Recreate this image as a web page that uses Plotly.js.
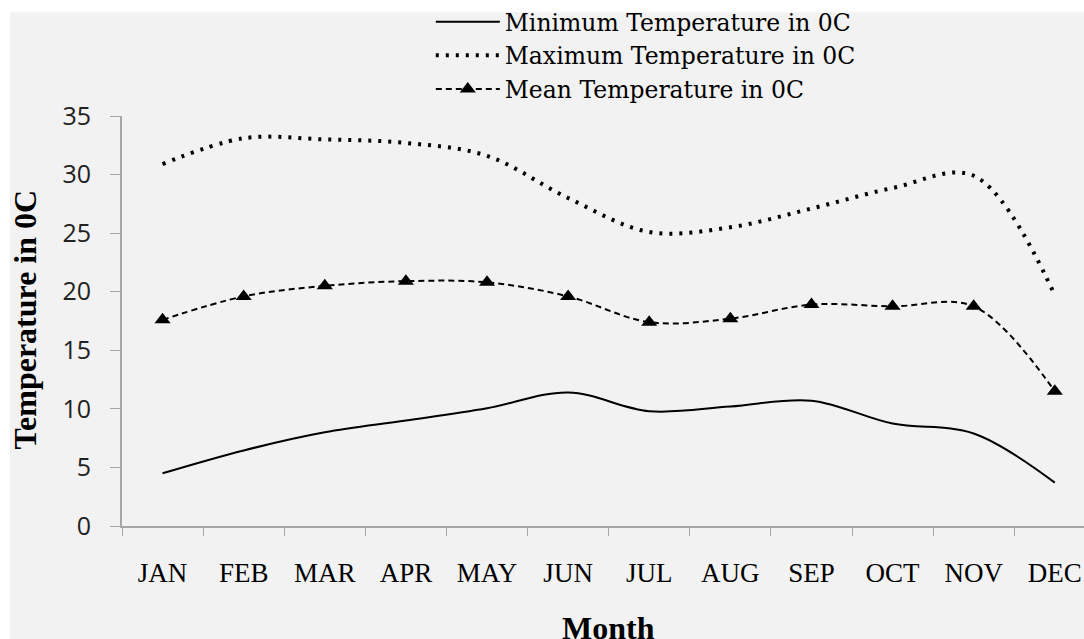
<!DOCTYPE html>
<html>
<head>
<meta charset="utf-8">
<script src="https://cdn.plot.ly/plotly-3.0.1.min.js"></script>
<style>html,body{margin:0;padding:0;background:#fff;}#chart{width:1084px;height:639px;}</style>
</head>
<body>
<div id="chart"></div>
<script>
const months = ["JAN","FEB","MAR","APR","MAY","JUN","JUL","AUG","SEP","OCT","NOV","DEC"];
const minTemp = [4.5, 6.45, 8.0, 9.0, 10.05, 11.4, 9.8, 10.2, 10.7, 8.75, 7.9, 3.7];
const maxTemp = [30.9, 33.1, 33.0, 32.7, 31.6, 28.0, 25.1, 25.5, 27.1, 28.85, 29.9, 19.7];
const meanTemp = [17.6, 19.6, 20.5, 20.9, 20.8, 19.6, 17.4, 17.7, 18.9, 18.75, 18.75, 11.5];
const seriesNames = ["Minimum Temperature in 0C","Maximum Temperature in 0C","Mean Temperature in 0C"];

const serif = "Liberation Serif, Times New Roman, serif";
const legendSerif = "DejaVu Serif, Liberation Serif, serif";
const sans = "Open Sans, Lato, sans-serif";

const traces = [
  {x: months, y: minTemp, name: seriesNames[0], type: "scatter", mode: "lines",
   line: {color: "#000", width: 2, shape: "spline", smoothing: 1}},
  {x: months, y: maxTemp, name: seriesNames[1], type: "scatter", mode: "lines",
   line: {color: "#000", width: 4, dash: "3px,7px", shape: "spline", smoothing: 1}},
  {x: months, y: meanTemp, name: seriesNames[2], type: "scatter", mode: "lines+markers",
   line: {color: "#000", width: 2, dash: "6px,4px", shape: "spline", smoothing: 1},
   marker: {symbol: "triangle-up", size: 14, color: "#000"}}
];

const layout = {
  width: 1084, height: 639,
  margin: {l: 122, r: 0, t: 116, b: 113},
  paper_bgcolor: "#ffffff",
  plot_bgcolor: "rgba(0,0,0,0)",
  showlegend: true,
  legend: {x: 0.321, xanchor: "left", y: 1, yref: "container", yanchor: "top",
           bgcolor: "rgba(0,0,0,0)", font: {family: legendSerif, size: 23.5, color: "#000"},
           tracegroupgap: 0, itemwidth: 64, borderwidth: 0},
  xaxis: {type: "category", range: [-0.5, 11.36], tickson: "boundaries",
          ticks: "outside", ticklen: 8, tickcolor: "#a6a6a6", tickwidth: 1,
          showline: true, linecolor: "#a6a6a6", linewidth: 2, showgrid: false, zeroline: false,
          tickfont: {family: serif, size: 27, color: "#000"}, ticklabelstandoff: 22,
          fixedrange: true, automargin: false},
  yaxis: {range: [0, 35], dtick: 5, tick0: 0, ticks: "outside", ticklen: 10,
          tickcolor: "#a6a6a6", tickwidth: 1, showline: true, linecolor: "#a6a6a6",
          linewidth: 2, showgrid: false, zeroline: false,
          tickfont: {family: sans, size: 25, color: "#222"}, ticklabelstandoff: 14,
          fixedrange: true, automargin: false},
  shapes: [{type: "rect", xref: "paper", yref: "paper", x0: -0.1165, x1: 1.01,
            y0: -0.3, y1: 1.253, fillcolor: "#f2f2f2", line: {width: 0}, layer: "below"}],
  annotations: [
    {text: "<b>Temperature in 0C</b>", xref: "paper", yref: "paper", x: -0.1008, y: 0.504,
     textangle: -90, showarrow: false, xanchor: "center", yanchor: "middle",
     font: {family: serif, size: 32, color: "#000"}},
    {text: "<b>Month</b>", xref: "x", yref: "paper", x: 5.5, y: -0.2,
     showarrow: false, xanchor: "center", yanchor: "top",
     font: {family: serif, size: 32, color: "#000"}}
  ]
};

Plotly.newPlot("chart", traces, layout, {displayModeBar: false, staticPlot: true});
</script>
</body>
</html>
